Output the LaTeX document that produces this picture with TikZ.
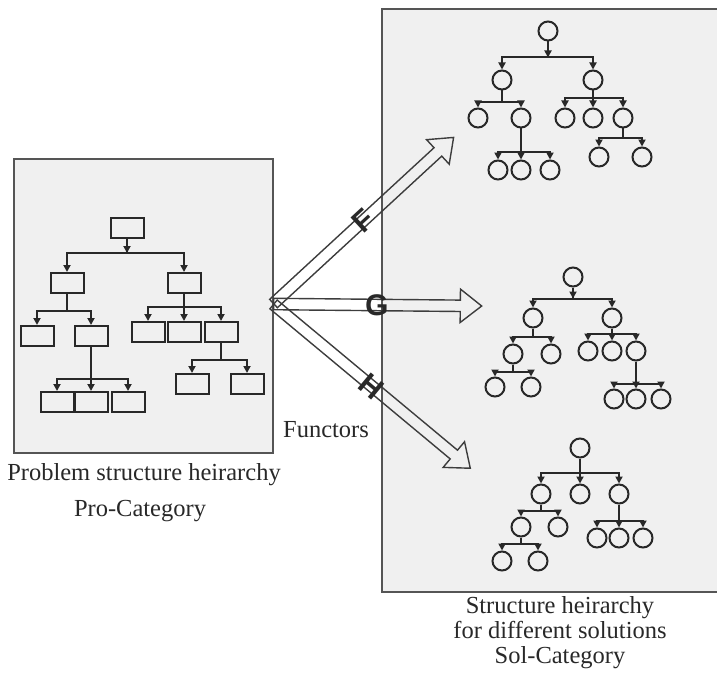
\documentclass[tikz,border=0pt]{standalone}
\usepackage{fontspec}
\setmainfont{Liberation Serif}
\newfontfamily\labelsf{Liberation Sans}
\usetikzlibrary{arrows.meta,shapes.arrows}
\definecolor{panelgrey}{RGB}{240,240,240}
\definecolor{framegrey}{RGB}{85,85,85}
\definecolor{ink}{RGB}{40,40,40}
\tikzset{
    panel/.style={
        fill=panelgrey,
        draw=framegrey,
        line width=2.2pt
    },
    pbox/.style={
        rectangle,
        draw=ink,
        fill=panelgrey,
        line width=2pt,
        minimum width=33pt,
        minimum height=20pt,
        inner sep=0pt
    },
    sbox/.style={
        circle,
        draw=ink,
        fill=panelgrey,
        line width=2pt,
        minimum size=19pt,
        inner sep=0pt
    },
    branch/.style={
        draw=ink,
        line width=2pt,
        -{Triangle[width=7pt,length=7pt]}
    },
    functor/.style={
        single arrow,
        draw=ink!90,
        line width=1.4pt,
        inner xsep=0pt,
        inner ysep=5pt,
        single arrow head extend=11pt,
        single arrow tip angle=76,
        minimum height=#1,
        pos=0,
        sloped,
        anchor=tail
    },
    fname/.style={
        font=\labelsf\bfseries\fontsize{30}{30}\selectfont,
        text=ink,
        pos=0.5,
        sloped,
        inner sep=0pt
    },
    caption/.style={
        font=\fontsize{24.5}{25}\selectfont,
        text=ink,
        anchor=base,
        align=center,
        inner sep=0pt
    }
}

\begin{document}
\begin{tikzpicture}[x=1pt,y=-1pt]
    \useasboundingbox (0,0) rectangle (717,674);

    % Panels
    \draw[panel] (14,159) rectangle (273,453);
    \fill[panelgrey] (382,9) rectangle (725,592);
    \draw[framegrey, line width=2.2pt] (725,9) -| (382,592) -- (725,592);

    % Problem tree
    \foreach \n/\x/\y in {p0/127/228, p1/67/283, p2/184/283,
                          p11/37/336, p12/91/336,
                          p121/57/402, p122/91/402, p123/128/402,
                          p21/148/332, p22/184/332, p23/221/332,
                          p231/192/384, p232/247/384}
        \node[pbox] (\n) at (\x,\y) {};

    % Solution trees
    \foreach \n/\x/\y in {a0/548/31, a1/502/80, a2/593/80,
                          a11/478/118, a12/521/118,
                          a121/498/170, a122/521/170, a123/550/170,
                          a21/565/118, a22/593/118, a23/623/118,
                          a231/599/157, a232/642/157}
        \node[sbox] (\n) at (\x,\y) {};
    \foreach \n/\x/\y in {b0/573/277, b1/533/318, b2/612/318,
                          b11/513/354, b12/551/354,
                          b111/495/387, b112/531/387,
                          b21/588/351, b22/612/351, b23/636/351,
                          b231/614/399, b232/636/399, b233/661/399}
        \node[sbox] (\n) at (\x,\y) {};
    \foreach \n/\x/\y in {c0/580/448, c1/541/494, c2/580/494, c3/619/494,
                          c11/521/527, c12/558/527,
                          c111/502/561, c112/538/561,
                          c31/597/538, c32/619/538, c33/643/538}
        \node[sbox] (\n) at (\x,\y) {};

    % Branches (parent / drop to bar / children)
    \foreach \up/\h/\kids in {p0/14/{p1,p2}, p1/17/{p11,p12}, p12/32/{p121,p122,p123},
                              p2/13/{p21,p22,p23}, p23/17/{p231,p232},
                              a0/16/{a1,a2}, a1/12/{a11,a12}, a12/23/{a121,a122,a123},
                              a2/8/{a21,a22,a23}, a23/9/{a231,a232},
                              b0/11/{b1,b2}, b1/8/{b11,b12}, b11/7/{b111,b112},
                              b2/5/{b21,b22,b23}, b23/22/{b231,b232,b233},
                              c0/14/{c1,c2,c3}, c1/6/{c11,c12}, c11/6/{c111,c112},
                              c3/16/{c31,c32,c33}}
        \foreach \kid in \kids
            \draw[branch] (\up.south) -- ++(0,\h) -| (\kid.north);
    \foreach \up/\h in {p0/14, a0/16, b0/11}
        \draw[branch] (\up.south) -- ++(0,\h);

    % Functors
    \coordinate (apex) at (273,304);
    \coordinate (tipF) at (453,138);
    \coordinate (tipG) at (481,306);
    \coordinate (tipH) at (470,468);
    \path (apex) -- node[functor=245pt] (fF) {} node[fname] {F} (tipF);
    \path (apex) -- node[functor=208pt] (fG) {} node[fname] {G} (tipG);
    \path (apex) -- node[functor=256pt] (fH) {} node[fname] {H} (tipH);

    % Labels
    \node[caption] (functors) at (326,437) {Functors};
    \node[caption] (procap) at (144,480) {Problem structure heirarchy};
    \node[caption] (procat) at (140,516) {Pro-Category};
    \node[caption] (solcap) at (560,663) {Structure heirarchy\\for different solutions\\Sol-Category};
\end{tikzpicture}
\end{document}
